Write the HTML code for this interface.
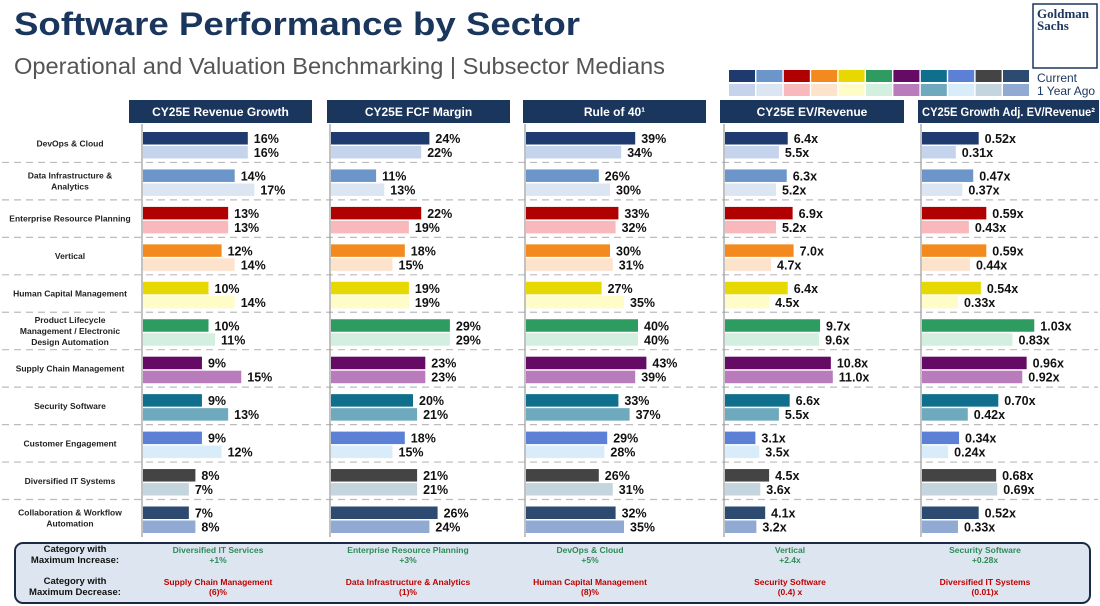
<!DOCTYPE html>
<html><head><meta charset="utf-8">
<style>
body{margin:0;width:1100px;height:606px;background:#fff;overflow:hidden;font-family:"Liberation Sans",sans-serif;}
svg{position:absolute;left:0;top:0}
</style></head>
<body>
<svg id="c" width="1100" height="606" xmlns="http://www.w3.org/2000/svg">
<text x="14" y="35" font-size="32" font-weight="bold" fill="#1b365d" textLength="566" lengthAdjust="spacingAndGlyphs">Software Performance by Sector</text>
<text x="14" y="74" font-size="23" fill="#555" textLength="651" lengthAdjust="spacingAndGlyphs">Operational and Valuation Benchmarking | Subsector Medians</text>
<g>
<rect x="1033" y="4" width="64" height="64" fill="#fff" stroke="#1b365d" stroke-width="1.5"/>
<text x="1037" y="18" font-family="Liberation Serif,serif" font-size="13" font-weight="bold" fill="#1b365d">Goldman</text>
<text x="1037" y="30" font-family="Liberation Serif,serif" font-size="13" font-weight="bold" fill="#1b365d">Sachs</text>
</g>
<g id="legend">
<text x="1037" y="82" font-size="12" fill="#1b365d">Current</text>
<text x="1037" y="95" font-size="12" fill="#1b365d">1 Year Ago</text>
</g>
<rect x="15" y="543" width="1075" height="60" rx="8" fill="#dde6f0" stroke="#1b2a44" stroke-width="2"/>
<g id="grid"></g>
<g id="bars"></g>
</svg>
<script>
const ns="http://www.w3.org/2000/svg";
const sectors=["DevOps & Cloud","Data Infrastructure &|Analytics","Enterprise Resource Planning","Vertical","Human Capital Management","Product Lifecycle|Management / Electronic|Design Automation","Supply Chain Management","Security Software","Customer Engagement","Diversified IT Systems","Collaboration & Workflow|Automation"];
const curColors=["#1f3a6e","#6c95c9","#b00000","#f28a1e","#e6d800","#2e9b60","#650a65","#0f6f8c","#5b80d6","#444444","#2d4a70"];
const priorColors=["#c5d3ec","#dce6f3","#f9b8bc","#fde3cc","#fffcc8","#d3efe0","#b87bbb","#6ea9bd","#d8ecfa","#c5d5de","#91aad3"];
const panelTitles=["CY25E Revenue Growth","CY25E FCF Margin","Rule of 40¹","CY25E EV/Revenue","CY25E Growth Adj. EV/Revenue²"];
const revCur=[16,14,13,12,10,10,9,9,9,8,7];
const revPrior=[16,17,13,14,14,11,15,13,12,7,8];
const fcfCur=[24,11,22,18,19,29,23,20,18,21,26];
const fcfPrior=[22,13,19,15,19,29,23,21,15,21,24];
const r40Cur=[39,26,33,30,27,40,43,33,29,26,32];
const r40Prior=[34,30,32,31,35,40,39,37,28,31,35];
const evCur=[6.4,6.3,6.9,7.0,6.4,9.7,10.8,6.6,3.1,4.5,4.1];
const evPrior=[5.5,5.2,5.2,4.7,4.5,9.6,11.0,5.5,3.5,3.6,3.2];
const gaCur=[0.52,0.47,0.59,0.59,0.54,1.03,0.96,0.70,0.34,0.68,0.52];
const gaPrior=[0.31,0.37,0.43,0.44,0.33,0.83,0.92,0.42,0.24,0.69,0.33];
const incTexts=["Diversified IT Services|+1%","Enterprise Resource Planning|+3%","DevOps & Cloud|+5%","Vertical|+2.4x","Security Software|+0.28x"];
const decTexts=["Supply Chain Management|(6)%","Data Infrastructure & Analytics|(1)%","Human Capital Management|(8)%","Security Software|(0.4) x","Diversified IT Systems|(0.01)x"];

const panels=[
 {hx:129,hw:183,ax:142,scale:6.55,cur:revCur,prior:revPrior,fmt:v=>v+"%"},
 {hx:327,hw:183,ax:330,scale:4.1,cur:fcfCur,prior:fcfPrior,fmt:v=>v+"%"},
 {hx:523,hw:183,ax:525,scale:2.8,cur:r40Cur,prior:r40Prior,fmt:v=>v+"%"},
 {hx:720,hw:184,ax:724,scale:9.8,cur:evCur,prior:evPrior,fmt:v=>v.toFixed(1)+"x"},
 {hx:918,hw:181,ax:921,scale:109,cur:gaCur,prior:gaPrior,fmt:v=>v.toFixed(2)+"x"}];
const centers=[218,408,590,790,985];
const top0=125, rowH=37.45;
function mk(tag,attrs,parent){const e=document.createElementNS(ns,tag);for(const k in attrs)e.setAttribute(k,attrs[k]);parent.appendChild(e);return e;}
const svg=document.getElementById('c');
const bars=document.getElementById('bars');
const grid=document.getElementById('grid');
const legend=document.getElementById('legend');
curColors.forEach((c,i)=>{
 const a=mk('rect',{x:729+i*27.4,y:70,width:26,height:12,fill:c},legend);
 
 
 const b=mk('rect',{x:729+i*27.4,y:84,width:26,height:12,fill:priorColors[i]},legend);
 
 
});
for(let i=1;i<11;i++){
 const y=top0+rowH*i;
 const l=mk('line',{x1:2,x2:1098,y1:y,y2:y,stroke:"#bbb","stroke-width":1.2,"stroke-dasharray":"7,5"},grid);
 
 
}
sectors.forEach((s,i)=>{
 const lines=s.split("|");
 const cy=top0+rowH*i+rowH/2;
 const t=mk('text',{x:70,"text-anchor":"middle","font-size":8.5,"font-weight":"bold",fill:"#222"},svg);
 
 
 lines.forEach((ln,j)=>{const ts=mk('tspan',{x:70,y:cy+3+(j-(lines.length-1)/2)*11},t);ts.textContent=ln;});
});
panels.forEach((p,pi)=>{
 const h=mk('rect',{x:p.hx,y:100,width:p.hw,height:23,fill:"#1b365d"},svg);
 
 
 const ht=mk('text',{x:p.hx+p.hw/2,y:116,"text-anchor":"middle","font-size":12,"font-weight":"bold",fill:"#fff"},svg);
 ht.textContent=panelTitles[pi];
 
 
 if(ht.getComputedTextLength()>p.hw-8){ht.setAttribute('textLength',p.hw-8);ht.setAttribute('lengthAdjust','spacingAndGlyphs');}
 const ax=mk('line',{x1:p.ax,x2:p.ax,y1:124,y2:537,stroke:"#999","stroke-width":1.2},svg);
 
 
 for(let i=0;i<11;i++){
  const rt=top0+rowH*i;
  [[p.cur[i],curColors[i],7,'bar-current'],[p.prior[i],priorColors[i],21,'bar-prior']].forEach(([v,c,off,nm])=>{
   const w=v*p.scale;
   const r=mk('rect',{x:p.ax+1,y:rt+off,width:w,height:12.5,fill:c},bars);
   
   
   const t=mk('text',{x:p.ax+1+w+6,y:rt+off+11,"font-size":12.5,"font-weight":"bold",fill:"#111"},bars);
   t.textContent=p.fmt(v);
   
   
  });
 }
 [[incTexts[pi],"#2e8b57",553],[decTexts[pi],"#c00000",585]].forEach(([txt,col,y])=>{
  const parts=txt.split("|");
  parts.forEach((pt,j)=>{
   const t=mk('text',{x:centers[pi],y:y+j*10,"text-anchor":"middle","font-size":8.5,"font-weight":"bold",fill:col},svg);
   t.textContent=pt;
   
   
  });
 });
});
[["Category with",552],["Maximum Increase:",563],["Category with",584],["Maximum Decrease:",595]].forEach(([s,y])=>{
 const t=mk('text',{x:75,y:y,"text-anchor":"middle","font-size":9.5,"font-weight":"bold",fill:"#111"},svg);
 t.textContent=s;
 
 
});
</script>
</body></html>
